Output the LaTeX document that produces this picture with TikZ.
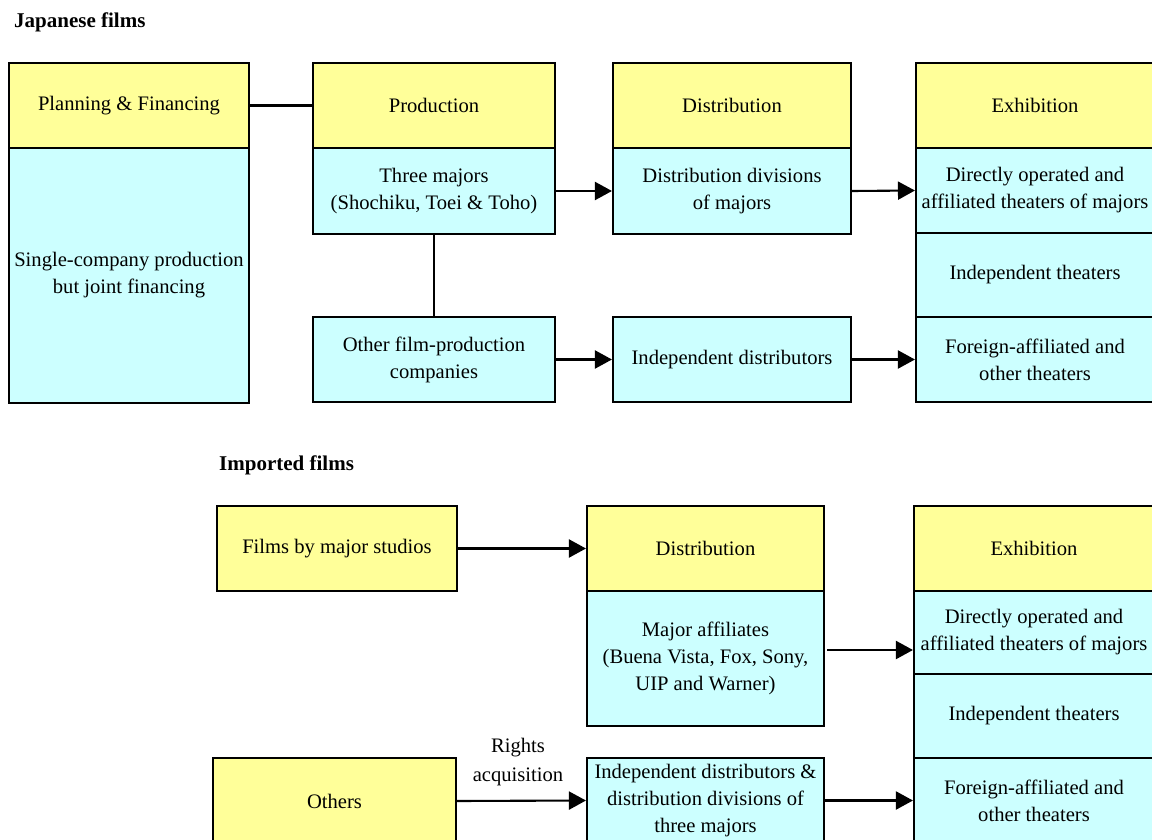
\documentclass[tikz,border=0pt]{standalone}
\usepackage{fontspec}
\setmainfont{Liberation Serif}
\usetikzlibrary{arrows.meta}
\definecolor{boxyellow}{HTML}{FFFF99}
\definecolor{boxcyan}{HTML}{CCFFFF}
\begin{document}
\begin{tikzpicture}[x=1pt,y=-1pt,
  box/.style={draw=black,line width=2.1pt,inner sep=2pt,align=center,
    font=\fontsize{20.6}{27}\selectfont,text=black},
  ybox/.style={box,fill=boxyellow},
  cbox/.style={box,fill=boxcyan},
  title/.style={anchor=west,inner sep=0pt,font=\fontsize{21}{24}\selectfont\bfseries},
  lbl/.style={inner sep=0pt,align=center,font=\fontsize{20.6}{29}\selectfont},
  link/.style={line width=2.1pt},
  arr/.style={line width=2.1pt,-{Triangle[length=17pt,width=18pt]}}]
\useasboundingbox (0,0) rectangle (1152,840);

% ---------- Japanese films ----------
\node[title] (tj) at (14,22) {Japanese films};

\node[ybox,minimum width=240,minimum height=85] (pf) at (129,105.5) {Planning \& Financing};
\node[cbox,minimum width=240,minimum height=255] (pfb) at (129,275.5) {Single-company production\\but joint financing};

\node[ybox,minimum width=242,minimum height=85] (prod) at (434,105.5) {Production};
\node[cbox,minimum width=242,minimum height=86] (tm) at (434,191) {Three majors\\(Shochiku, Toei \& Toho)};
\node[cbox,minimum width=242,minimum height=85] (ofp) at (434,359.5) {Other film-production\\companies};

\node[ybox,minimum width=238,minimum height=85] (dist) at (732,105.5) {Distribution};
\node[cbox,minimum width=238,minimum height=86] (ddm) at (732,191) {Distribution divisions\\of majors};
\node[cbox,minimum width=238,minimum height=85] (idist) at (732,359.5) {Independent distributors};

\node[ybox,minimum width=238,minimum height=85] (exh) at (1035,105.5) {Exhibition};
\node[cbox,minimum width=238,minimum height=85] (ex1) at (1035,190.5) {Directly operated and\\affiliated theaters of majors};
\node[cbox,minimum width=238,minimum height=84] (ex2) at (1035,275) {Independent theaters};
\node[cbox,minimum width=238,minimum height=85] (ex3) at (1035,359.5) {Foreign-affiliated and\\other theaters};

\draw[link] (pf.east) -- (prod.west);
\draw[link] (tm.south) -- (ofp.north);
\draw[arr] (tm.east) -- (ddm.west);
\draw[arr] (ddm.east) -- (ex1.west);
\draw[arr] (ofp.east) -- (idist.west);
\draw[arr] (idist.east) -- (ex3.west);

% ---------- Imported films ----------
\node[title] (ti) at (219,465) {Imported films};

\node[ybox,minimum width=240,minimum height=85] (fms) at (337,548.5) {Films by major studios};
\node[ybox,minimum width=243,minimum height=86] (oth) at (334.5,801) {Others};

\node[ybox,minimum width=237,minimum height=85] (dist2) at (705.5,548.5) {Distribution};
\node[cbox,minimum width=237,minimum height=135] (ma) at (705.5,658.5) {Major affiliates\\(Buena Vista, Fox, Sony,\\UIP and Warner)};
\node[cbox,minimum width=237,minimum height=85] (idd) at (705.5,800.5) {Independent distributors \&\\distribution divisions of\\three majors};

\node[ybox,minimum width=240,minimum height=85] (exh2) at (1034,548.5) {Exhibition};
\node[cbox,minimum width=240,minimum height=83] (e1) at (1034,632.5) {Directly operated and\\affiliated theaters of majors};
\node[cbox,minimum width=240,minimum height=84] (e2) at (1034,716) {Independent theaters};
\node[cbox,minimum width=240,minimum height=85] (e3) at (1034,800.5) {Foreign-affiliated and\\other theaters};

\node[lbl] (ra) at (518,762) {Rights\\acquisition};

\coordinate (maout) at (827,650);
\draw[arr] (fms.east) -- (dist2.west);
\draw[arr] (maout) -- (maout -| e1.west);
\draw[arr] (oth.east) -- (idd.west);
\draw[arr] (idd.east) -- (e3.west);
\end{tikzpicture}
\end{document}
